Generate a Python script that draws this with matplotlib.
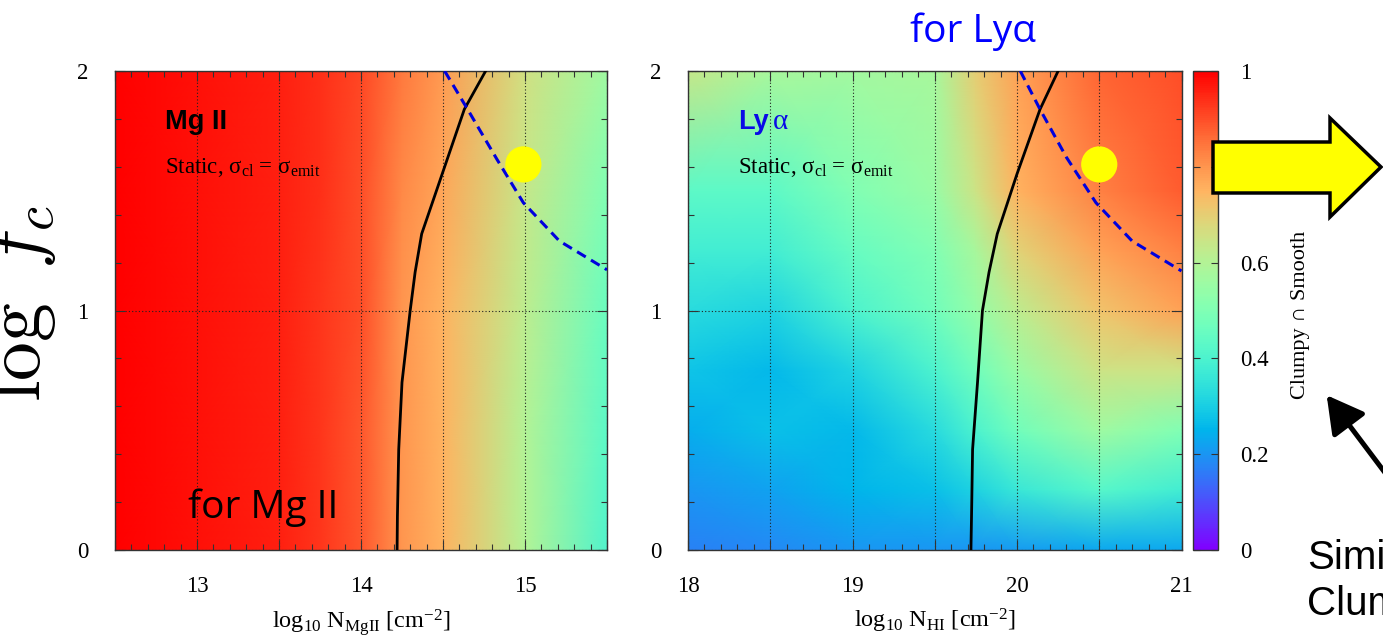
import numpy as np
import matplotlib
matplotlib.use("Agg")
import matplotlib.pyplot as plt
from matplotlib.ticker import MultipleLocator, FuncFormatter
from matplotlib.patches import Polygon, FancyArrowPatch

# ---------------- data ----------------
# Mg II panel: fraction of clumpy / smooth agreement on a coarse node grid
mg_x = [12.5, 13.0, 13.5, 13.75, 14.0, 14.25, 14.5, 15.0, 15.5]
mg_y = [0.0, 0.5, 1.0, 1.5, 2.0]
mg_z = [
    [1.00, 0.98, 0.96, 0.93, 0.89, 0.80, 0.75, 0.60, 0.41],
    [1.00, 0.98, 0.96, 0.93, 0.89, 0.80, 0.75, 0.60, 0.43],
    [1.00, 0.98, 0.96, 0.93, 0.90, 0.80, 0.75, 0.62, 0.46],
    [1.00, 0.98, 0.96, 0.94, 0.90, 0.82, 0.77, 0.64, 0.50],
    [1.00, 0.98, 0.96, 0.94, 0.91, 0.84, 0.79, 0.66, 0.56],
]

# Lyman-alpha panel
ly_x = [18.0, 18.5, 19.0, 19.5, 19.75, 20.0, 20.5, 21.0]
ly_y = [0.0, 0.25, 0.5, 0.75, 1.0, 1.25, 1.5, 2.0]
ly_z = [
    [0.17, 0.18, 0.20, 0.20, 0.20, 0.21, 0.23, 0.23],
    [0.20, 0.22, 0.25, 0.27, 0.31, 0.36, 0.42, 0.38],
    [0.24, 0.27, 0.26, 0.33, 0.40, 0.47, 0.56, 0.50],
    [0.28, 0.26, 0.31, 0.40, 0.47, 0.55, 0.65, 0.65],
    [0.33, 0.31, 0.40, 0.47, 0.54, 0.62, 0.72, 0.78],
    [0.38, 0.38, 0.45, 0.50, 0.58, 0.69, 0.78, 0.83],
    [0.43, 0.43, 0.50, 0.55, 0.65, 0.75, 0.83, 0.88],
    [0.64, 0.58, 0.57, 0.58, 0.70, 0.78, 0.87, 0.90],
]

# boundary curves (solid black) and dashed blue curves
mg_solid_x = [14.22, 14.222, 14.23, 14.25, 14.30, 14.33, 14.37, 14.49, 14.63, 14.76]
mg_solid_y = [0.00, 0.14, 0.42, 0.70, 1.00, 1.16, 1.32, 1.56, 1.84, 2.00]
mg_dash_x = [14.51, 14.65, 14.83, 14.99, 15.21, 15.50]
mg_dash_y = [2.00, 1.84, 1.63, 1.45, 1.29, 1.17]

ly_solid_x = [19.72, 19.725, 19.73, 19.76, 19.79, 19.83, 19.88, 20.00, 20.14, 20.25]
ly_solid_y = [0.00, 0.20, 0.42, 0.70, 1.00, 1.16, 1.32, 1.57, 1.84, 2.00]
ly_dash_x = [20.02, 20.14, 20.30, 20.48, 20.70, 21.00]
ly_dash_y = [2.00, 1.84, 1.64, 1.45, 1.29, 1.165]

# highlighted points
mg_point = (14.99, 1.61)
ly_point = (20.50, 1.61)

cbar_ticks = [0, 0.2, 0.4, 0.6, 0.8, 1.0]

# ---------------- style ----------------
plt.rcParams["font.family"] = ["Liberation Serif", "DejaVu Serif"]
plt.rcParams["mathtext.fontset"] = "custom"
plt.rcParams["mathtext.rm"] = "Liberation Serif"
plt.rcParams["mathtext.it"] = "Liberation Serif:italic"
plt.rcParams["mathtext.bf"] = "Liberation Serif:bold"

W, H = 1383, 641
fig = plt.figure(figsize=(W / 100, H / 100), dpi=100)


def fx(px):
    return px / W


def fy(py):
    return 1 - py / H


ax1 = fig.add_axes([fx(115), fy(550), (607 - 115) / W, (550 - 71) / H])
ax2 = fig.add_axes([fx(688), fy(550), (1181.5 - 688) / W, (550 - 71) / H])
cax = fig.add_axes([fx(1193), fy(550), 25 / W, (550 - 71) / H])

int_fmt = FuncFormatter(lambda v, p: f"{v:.0f}" if abs(v - round(v)) < 1e-6 else "")


def style(ax, xlim, xlabel):
    ax.set_xlim(*xlim)
    ax.set_ylim(0, 2)
    ax.xaxis.set_major_locator(MultipleLocator(0.5))
    ax.xaxis.set_minor_locator(MultipleLocator(0.1))
    ax.yaxis.set_major_locator(MultipleLocator(1))
    ax.yaxis.set_minor_locator(MultipleLocator(0.2))
    ax.xaxis.set_major_formatter(int_fmt)
    ax.yaxis.set_major_formatter(int_fmt)
    ax.tick_params(which="both", direction="in", top=True, right=True,
                   width=0.8, color="#333333", labelsize=16.5)
    ax.tick_params(which="major", length=7)
    ax.tick_params(which="minor", length=4)
    ax.tick_params(axis="x", which="major", pad=19)
    ax.tick_params(axis="y", which="major", pad=19)
    ax.grid(True, which="major", color="#222222", ls=(0, (1, 2)), lw=0.8)
    for s in ax.spines.values():
        s.set_color("#333333")
        s.set_linewidth(1.0)
    ax.set_xlabel(xlabel, fontsize=17.5, labelpad=7)


cmap = "rainbow"
m1 = ax1.pcolormesh(mg_x, mg_y, np.array(mg_z), shading="gouraud",
                    cmap=cmap, vmin=0, vmax=1, zorder=0.5)
m2 = ax2.pcolormesh(ly_x, ly_y, np.array(ly_z), shading="gouraud",
                    cmap=cmap, vmin=0, vmax=1, zorder=0.5)

style(ax1, (12.5, 15.5), r"log$_{10}$ N$_{\rm MgII}$ [cm$^{-2}$]")
style(ax2, (18.0, 21.0), r"log$_{10}$ N$_{\rm HI}$ [cm$^{-2}$]")

for ax, sx, sy, dx, dy, pt in [
    (ax1, mg_solid_x, mg_solid_y, mg_dash_x, mg_dash_y, mg_point),
    (ax2, ly_solid_x, ly_solid_y, ly_dash_x, ly_dash_y, ly_point),
]:
    ax.plot(sx, sy, color="black", lw=2.0, zorder=3, solid_joinstyle="round")
    ax.plot(dx, dy, color="#0000dd", lw=2.2, ls=(0, (3.3, 2.0)), zorder=3)
    ax.scatter([pt[0]], [pt[1]], s=680, color="#ffff00", edgecolors="none", zorder=4)

# panel annotations
static_label = "Static, σ$_{\\rm cl}$ = σ$_{\\rm emit}$"
ax1.text(12.805, 1.758, "Mg II", fontsize=19.5, fontweight="bold",
         family=["Liberation Sans", "DejaVu Sans"], color="black", zorder=5)
ax1.text(12.805, 1.574, static_label, fontsize=16.5, color="black", zorder=5)
ax2.text(18.304, 1.758, "Ly", fontsize=19.5, fontweight="bold",
         family=["Liberation Sans", "DejaVu Sans"], color="#0a0ae6", zorder=5)
ax2.text(18.517, 1.758, "α", fontsize=21, color="#0a0ae6", zorder=5)
ax2.text(18.304, 1.574, static_label, fontsize=16.5, color="black", zorder=5)

# colour bar
cb = fig.colorbar(m2, cax=cax, ticks=cbar_ticks)
cb.ax.yaxis.set_major_formatter(FuncFormatter(lambda v, p: f"{v:g}"))
cb.outline.set_edgecolor("#333333")
cb.outline.set_linewidth(1.0)
cax.tick_params(direction="in", left=True, right=True, length=5, width=0.8,
                color="#333333", labelsize=16.5, pad=16)
cax.minorticks_off()
fig.text(fx(1300), fy(315), "Clumpy ∩ Smooth", rotation=90, fontsize=16,
         ha="center", va="center")

# big axis symbol on the left
fig.text(fx(40), fy(402), r"$\log\ f_c$", fontsize=56, math_fontfamily="cm",
         rotation=90, rotation_mode="anchor", ha="left", va="baseline")

sans = ["Open Sans", "DejaVu Sans"]
fig.text(fx(973), fy(42), "for Lyα", fontsize=28, family=sans, color="#0000ff",
         ha="center", va="baseline")
fig.text(fx(188), fy(518), "for Mg II", fontsize=28, family=sans, color="black",
         ha="left", va="baseline")
side = ["Liberation Sans", "DejaVu Sans"]
fig.text(fx(1307), fy(569), "Similar", fontsize=29, family=side, color="black",
         ha="left", va="baseline")
fig.text(fx(1307), fy(615), "Clumpy", fontsize=29, family=side, color="black",
         ha="left", va="baseline")

# yellow block arrow pointing right
arrow_px = [(1213, 142), (1330, 142), (1330, 118), (1381, 167),
            (1330, 217), (1330, 193), (1213, 193)]
fig.add_artist(Polygon([(fx(a), fy(b)) for a, b in arrow_px], closed=True,
                       transform=fig.transFigure, facecolor="#ffff00",
                       edgecolor="black", lw=2.5, zorder=6))

# black pointer arrow towards the colour bar label
fig.add_artist(FancyArrowPatch((fx(1392), fy(482)), (fx(1325), fy(393)),
                               transform=fig.transFigure,
                               arrowstyle="-|>,head_length=0.9,head_width=0.5",
                               mutation_scale=25, lw=3.6, color="black",
                               zorder=6))

fig.savefig("out.png", dpi=100)
